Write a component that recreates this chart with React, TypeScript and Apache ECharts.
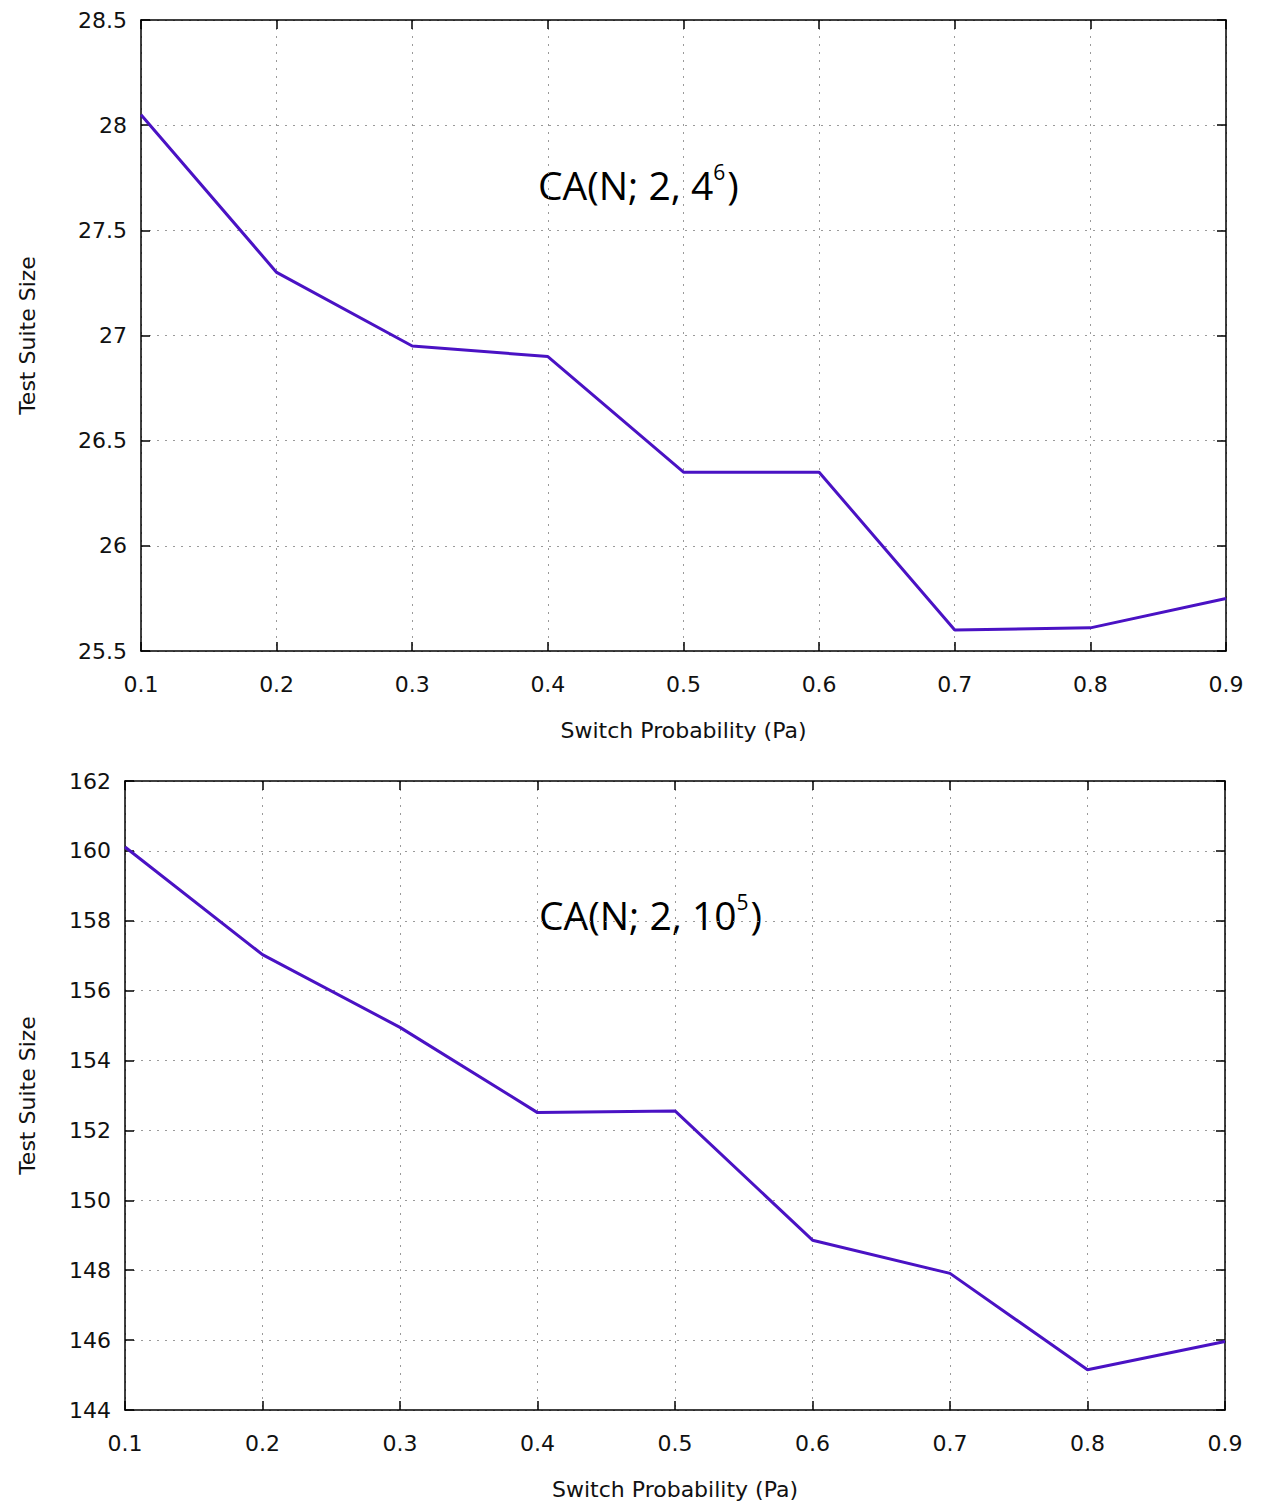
import React, { useEffect, useRef } from "react";
import * as echarts from "echarts";

const xValues = [0.1, 0.2, 0.3, 0.4, 0.5, 0.6, 0.7, 0.8, 0.9];
const topSeries = [28.05, 27.3, 26.95, 26.9, 26.35, 26.35, 25.6, 25.61, 25.75];
const bottomSeries = [160.11, 157.03, 154.95, 152.51, 152.56, 148.86, 147.91, 145.15, 145.96];
const topAnnotation = { base: "CA(N; 2, 4", sup: "6" };
const bottomAnnotation = { base: "CA(N; 2, 10", sup: "5" };
const xName = "Switch Probability (Pa)";
const yName = "Test Suite Size";

const FONT = "DejaVu Sans";
const LINE_COLOR = "#4a12c4";

function App() {
  const ref = useRef<HTMLDivElement>(null);
  useEffect(() => {
    if (!ref.current) return;
    const chart = echarts.init(ref.current, null, { renderer: "svg" });
    const grids = [
      { left: 127, top: 12, width: 1091, height: 631 },
      { left: 111, top: 773, width: 1106, height: 630 },
    ];
    const yRanges = [
      { min: 25.5, max: 28.5, interval: 0.5 },
      { min: 144, max: 162, interval: 2 },
    ];
    const gridLine = { show: true, lineStyle: { color: "#9a9a9a", type: [2, 6] as any, width: 1 } };
    const xAxes: any[] = [];
    const yAxes: any[] = [];
    [0, 1].forEach((g) => {
      xAxes.push({
        type: "value",
        gridIndex: g,
        min: 0.1,
        max: 0.9,
        interval: 0.1,
        position: "bottom",
        name: xName,
        nameLocation: "middle",
        nameGap: 68,
        nameTextStyle: { fontFamily: FONT, fontSize: 22, color: "#111" },
        axisLine: { show: true, onZero: false, lineStyle: { color: "#000", width: 1.5 } },
        axisTick: { show: true, inside: true, length: 9, lineStyle: { color: "#000", width: 1.5 } },
        axisLabel: {
          fontFamily: FONT,
          fontSize: 22,
          color: "#111",
          margin: 22,
          formatter: (v: number) => v.toFixed(1),
        },
        splitLine: gridLine,
      });
      xAxes.push({
        type: "value",
        gridIndex: g,
        min: 0.1,
        max: 0.9,
        interval: 0.1,
        position: "top",
        axisLine: { show: true, onZero: false, lineStyle: { color: "#000", width: 1.5 } },
        axisTick: { show: true, inside: true, length: 9, lineStyle: { color: "#000", width: 1.5 } },
        axisLabel: { show: false },
        splitLine: { show: false },
      });
      yAxes.push({
        type: "value",
        gridIndex: g,
        min: yRanges[g].min,
        max: yRanges[g].max,
        interval: yRanges[g].interval,
        position: "left",
        name: yName,
        nameLocation: "middle",
        nameGap: g === 0 ? 103 : 87,
        nameTextStyle: { fontFamily: FONT, fontSize: 22, color: "#111" },
        axisLine: { show: true, onZero: false, lineStyle: { color: "#000", width: 1.5 } },
        axisTick: { show: true, inside: true, length: 9, lineStyle: { color: "#000", width: 1.5 } },
        axisLabel: { fontFamily: FONT, fontSize: 22, color: "#111", margin: 14 },
        splitLine: gridLine,
      });
      yAxes.push({
        type: "value",
        gridIndex: g,
        min: yRanges[g].min,
        max: yRanges[g].max,
        interval: yRanges[g].interval,
        position: "right",
        axisLine: { show: true, onZero: false, lineStyle: { color: "#000", width: 1.5 } },
        axisTick: { show: true, inside: true, length: 9, lineStyle: { color: "#000", width: 1.5 } },
        axisLabel: { show: false },
        splitLine: { show: false },
      });
    });
    const richStyle = {
      a: { fontFamily: "Open Sans", fontSize: 39, color: "#111", lineHeight: 46 },
      s: { fontFamily: "Open Sans", fontSize: 21, color: "#111", lineHeight: 46, verticalAlign: "top" as const, padding: [0, 2, 0, 0] },
    };
    chart.setOption({
      animation: false,
      backgroundColor: "#fff",
      grid: grids.map((g) => ({ ...g, containLabel: false })),
      xAxis: xAxes,
      yAxis: yAxes,
      graphic: [
        {
          type: "text",
          left: 530,
          top: 153,
          style: {
            text: `{a|${topAnnotation.base}}{s|${topAnnotation.sup}}{a|)}`,
            rich: richStyle,
          },
        },
        {
          type: "text",
          left: 531,
          top: 883,
          style: {
            text: `{a|${bottomAnnotation.base}}{s|${bottomAnnotation.sup}}{a|)}`,
            rich: richStyle,
          },
        },
      ],
      series: [
        {
          type: "line",
          xAxisIndex: 0,
          yAxisIndex: 0,
          data: xValues.map((x, i) => [x, topSeries[i]]),
          showSymbol: false,
          lineStyle: { color: LINE_COLOR, width: 3 },
          itemStyle: { color: LINE_COLOR },
        },
        {
          type: "line",
          xAxisIndex: 2,
          yAxisIndex: 2,
          data: xValues.map((x, i) => [x, bottomSeries[i]]),
          showSymbol: false,
          lineStyle: { color: LINE_COLOR, width: 3 },
          itemStyle: { color: LINE_COLOR },
        },
      ],
    });
    return () => chart.dispose();
  }, []);
  return <div ref={ref} style={{ width: 1251, height: 1493 }} />;
}

export default App;
